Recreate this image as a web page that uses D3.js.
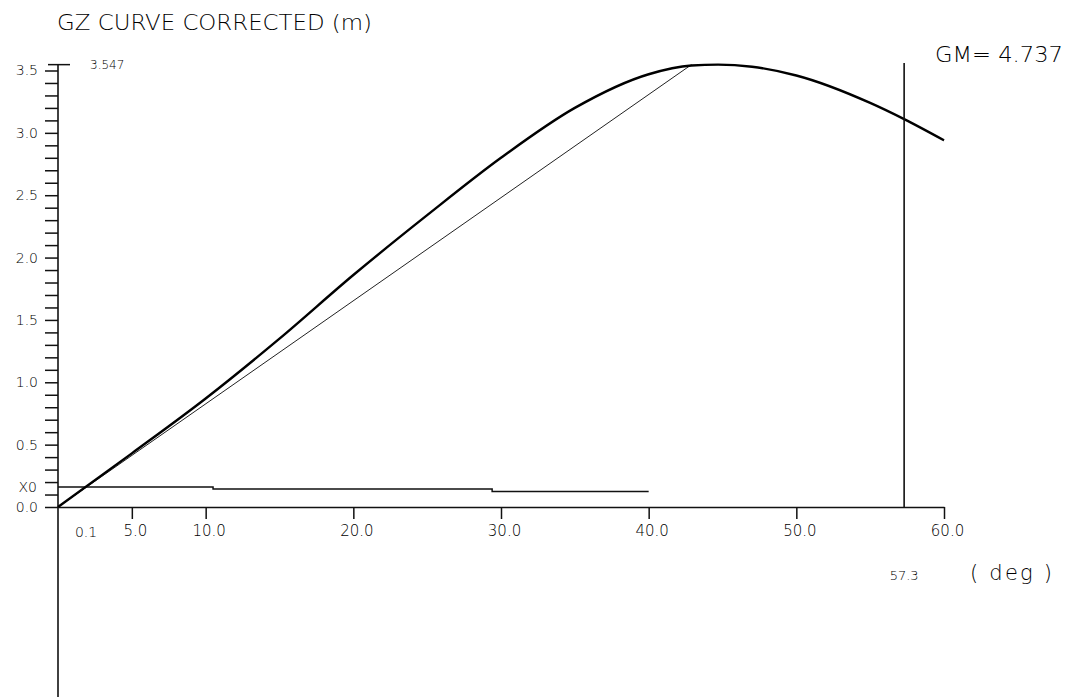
<!DOCTYPE html>
<html>
<head>
<meta charset="utf-8">
<script src="https://cdn.jsdelivr.net/npm/d3@7"></script>
<style>
  body { margin: 0; background: #fff; }
  text { font-family: "DejaVu Sans", sans-serif; font-weight: 200; fill: #000; }
</style>
</head>
<body>
<script>
// GZ curve (heel angle in deg, righting lever in m)
var angles = [0, 5, 10, 15, 20, 25, 30, 35, 40, 42.9, 44.7, 47, 50, 55, 57.3, 60];
var gzValues = [0, 0.43, 0.87, 1.35, 1.86, 2.34, 2.80, 3.20, 3.47, 3.54, 3.547, 3.53, 3.46, 3.24, 3.11, 2.94];

// initial GM line, cut at max GZ
var gmAngles = [0, 42.9];
var gmValues = [0, 3.547];

// X0 line (stepped)
var x0Angles = [0, 10.5, 29.4, 40];
var x0Values = [0.16, 0.144, 0.124, 0.124];

// axis ticks / labels
var xTicks = [5, 10, 20, 30, 40, 50, 60];
var yLabels = [0, 0.5, 1.0, 1.5, 2.0, 2.5, 3.0, 3.5];
var maxGZ = 3.547;
var gmText = "GM= 4.737";
var radAngle = 57.3;

var width = 1074, height = 697;

var xScale = d3.scaleLinear().domain([0, 60]).range([58, 944]);
var yScale = d3.scaleLinear().domain([0, 3.5]).range([507, 70.5]);

var svg = d3.select("body").append("svg")
    .attr("width", width)
    .attr("height", height);

// title
svg.append("text")
    .attr("x", 57).attr("y", 30)
    .attr("font-size", 22)
    .attr("textLength", 315)
    .attr("lengthAdjust", "spacingAndGlyphs")
    .text("GZ CURVE CORRECTED (m)");

// y axis ticks every 0.1
var yTickVals = d3.range(0, 36).map(function(i) { return +(i / 10).toFixed(1); });
var yAxis = svg.append("g")
    .attr("transform", "translate(" + xScale(0) + ",0)")
    .call(d3.axisLeft(yScale)
        .tickValues(yTickVals)
        .tickSize(13)
        .tickSizeOuter(0)
        .tickPadding(7)
        .tickFormat(function(d) {
            return yLabels.some(function(v) { return Math.abs(v - d) < 1e-6; }) ? d3.format(".1f")(d) : "";
        }));
yAxis.select(".domain").remove();
yAxis.selectAll("line").attr("stroke", "#111").attr("stroke-width", 1.5);
yAxis.selectAll("text").attr("font-size", 14).style("font-family", "DejaVu Sans").style("font-weight", 200);

// vertical axis line running to the bottom
svg.append("line")
    .attr("x1", xScale(0)).attr("x2", xScale(0))
    .attr("y1", yScale(maxGZ)).attr("y2", height)
    .attr("stroke", "#111").attr("stroke-width", 1.6);

// T cap at max GZ
svg.append("line")
    .attr("x1", xScale(0) - 10).attr("x2", xScale(0) + 12)
    .attr("y1", yScale(maxGZ)).attr("y2", yScale(maxGZ))
    .attr("stroke", "#111").attr("stroke-width", 1.5);

svg.append("text")
    .attr("x", 90).attr("y", yScale(maxGZ) + 4)
    .attr("font-size", 12)
    .text(d3.format(".3f")(maxGZ));

// x axis
var xAxis = svg.append("g")
    .attr("transform", "translate(0," + yScale(0) + ")")
    .call(d3.axisBottom(xScale)
        .tickValues(xTicks)
        .tickSize(12)
        .tickSizeOuter(0)
        .tickPadding(6)
        .tickFormat(d3.format(".1f")));
xAxis.select(".domain").attr("stroke", "#111").attr("stroke-width", 1.6);
xAxis.selectAll("line").attr("stroke", "#111").attr("stroke-width", 1.5);
xAxis.selectAll("text").attr("font-size", 15).attr("dx", 3)
    .style("font-family", "DejaVu Sans").style("font-weight", 200);

// "0.1" label near the origin
svg.append("text")
    .attr("x", xScale(1.9)).attr("y", 537)
    .attr("text-anchor", "middle")
    .attr("font-size", 14)
    .text("0.1");

// X0 label
svg.append("text")
    .attr("x", 37).attr("y", yScale(x0Values[0]) + 5)
    .attr("text-anchor", "end")
    .attr("font-size", 14)
    .text("X0");

// X0 line
var x0Data = x0Angles.map(function(a, i) { return {a: a, v: x0Values[i]}; });
svg.append("path")
    .datum(x0Data)
    .attr("fill", "none")
    .attr("stroke", "#111")
    .attr("stroke-width", 1.5)
    .attr("d", d3.line()
        .curve(d3.curveStepAfter)
        .x(function(d) { return xScale(d.a); })
        .y(function(d) { return yScale(d.v); }));

// GM line
var gmData = gmAngles.map(function(a, i) { return {a: a, v: gmValues[i]}; });
svg.append("path")
    .datum(gmData)
    .attr("fill", "none")
    .attr("stroke", "#222")
    .attr("stroke-width", 1)
    .attr("d", d3.line()
        .x(function(d) { return xScale(d.a); })
        .y(function(d) { return yScale(d.v); }));

// GZ curve
var gzData = angles.map(function(a, i) { return {a: a, v: gzValues[i]}; });
svg.append("path")
    .datum(gzData)
    .attr("fill", "none")
    .attr("stroke", "#000")
    .attr("stroke-width", 2.4)
    .attr("d", d3.line()
        .curve(d3.curveMonotoneX)
        .x(function(d) { return xScale(d.a); })
        .y(function(d) { return yScale(d.v); }));

// 1 rad vertical line
svg.append("line")
    .attr("x1", xScale(radAngle)).attr("x2", xScale(radAngle))
    .attr("y1", 63).attr("y2", yScale(0))
    .attr("stroke", "#111").attr("stroke-width", 1.6);

svg.append("text")
    .attr("x", xScale(radAngle)).attr("y", 580)
    .attr("text-anchor", "middle")
    .attr("font-size", 13)
    .text(radAngle.toFixed(1));

svg.append("text")
    .attr("x", 970).attr("y", 580)
    .attr("font-size", 21)
    .attr("textLength", 82)
    .attr("lengthAdjust", "spacing")
    .text("( deg )");

// GM value
svg.append("text")
    .attr("x", 935).attr("y", 62)
    .attr("font-size", 22)
    .attr("textLength", 128)
    .attr("lengthAdjust", "spacingAndGlyphs")
    .text(gmText);
</script>
</body>
</html>
